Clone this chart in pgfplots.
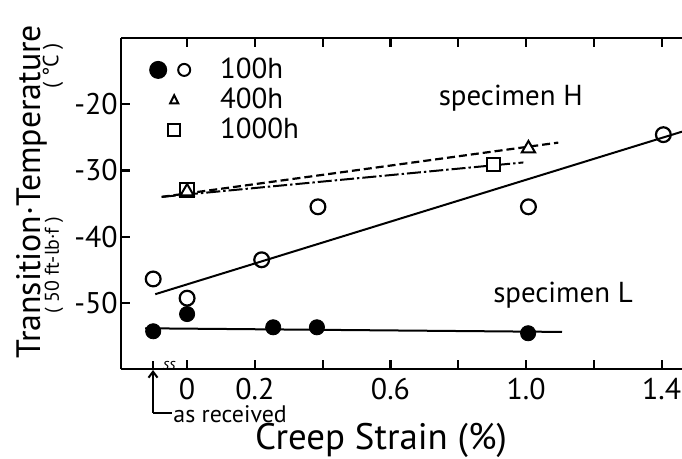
\documentclass[border=0pt]{standalone}
\usepackage{fontspec}
\setmainfont{PT Sans}
\usepackage{pgfplots}
\pgfplotsset{compat=1.18}
\usetikzlibrary{arrows.meta}

% specimen L, 100 h (filled circles)
\pgfplotstableread{
x y
-0.10 -54.3
0.00 -51.7
0.254 -53.7
0.383 -53.7
1.006 -54.6
}\specL
% specimen H, 100 h (open circles)
\pgfplotstableread{
x y
-0.10 -46.4
0.00 -49.3
0.22 -43.5
0.386 -35.5
1.007 -35.5
1.405 -24.6
}\specH

\begin{document}
\begin{tikzpicture}[x=1bp,y=1bp]
\useasboundingbox (0,0) rectangle (341,229.5);
\begin{axis}[
    at={(60.5bp,45bp)}, anchor=south west,
    scale only axis, width=280.5bp, height=165.5bp,
    xmin=-0.195, xmax=1.46, ymin=-60, ymax=-10,
    axis x line*=box, axis y line*=left,
    axis line style={-, line width=1.3bp},
    tick align=inside, major tick length=4.5bp,
    every tick/.style={line width=1.1bp, black},
    xtick={0,0.2,0.4,0.6,0.8,1.0,1.2,1.4},
    xticklabels={0,0.2,,0.6,,1.0,,1.4},
    ytick={-50,-40,-30,-20},
    yticklabels={-50,-40,-30,-20},
    tick label style={font=\fontsize{15}{15}\selectfont},
    xticklabel style={inner sep=0pt, text depth=0pt, yshift=-4.5bp},
    yticklabel style={inner sep=1.5bp},
    clip=false,
    legend style={at={(axis cs:-0.113,-13.4)}, anchor=north west,
        draw=none, fill=none, inner sep=0pt, row sep=6bp,
        font=\fontsize{14.5}{14.5}\selectfont,
        nodes={inner sep=0pt, text height=9bp, text depth=0bp}},
    legend cell align=left,
]
% fitted lines
\addplot[black, line width=1bp, forget plot] coordinates {(-0.124,-53.85) (1.106,-54.4)};
\addplot[black, line width=1bp, forget plot] coordinates {(-0.094,-48.7) (1.46,-24.15)};
\addplot[black, line width=1.1bp, dash pattern=on 4bp off 2bp, forget plot] coordinates {(-0.075,-34.0) (1.095,-25.8)};
\addplot[black, line width=1bp, dash pattern=on 7bp off 1.5bp on 1.2bp off 1.5bp, forget plot] coordinates {(-0.075,-34.0) (0.992,-28.8)};
% data points
\addplot[only marks, mark=*, mark size=3.8bp, mark options={fill=black, draw=black}, forget plot] table {\specL};
\addplot[only marks, mark=o, mark size=3.7bp, mark options={line width=1.1bp, fill=white, draw=black}, forget plot] table {\specH};
\addplot[only marks, mark=square*, mark size=3.4bp, mark options={line width=1bp, fill=white, draw=black}, forget plot] coordinates {(0,-33.0) (0.904,-29.1)};
\addplot[only marks, mark=triangle*, mark size=3.8bp, mark options={line width=1bp, fill=white, draw=black}, forget plot] coordinates {(0,-33.2) (1.007,-26.7)};
% legend
\addlegendimage{legend image code/.code={
    \draw[line width=1bp, fill=black, draw=black] (0bp,0bp) circle (4bp);
    \draw[line width=1bp, fill=white, draw=black] (13bp,0bp) circle (3bp);
    \path[draw=none, fill=none] (-4bp,0bp) -- (31bp,0bp);}}
\addlegendentry{100h}
\addlegendimage{legend image code/.code={
    \draw[line width=1bp, fill=white, draw=black] (6bp,-1.7bp) -- (10bp,-1.7bp) -- (8bp,2.3bp) -- cycle;
    \path[draw=none, fill=none] (-4bp,0bp) -- (31bp,0bp);}}
\addlegendentry{400h}
\addlegendimage{legend image code/.code={
    \draw[line width=1bp, fill=white, draw=black] (5bp,-3bp) rectangle (11bp,3bp);
    \path[draw=none, fill=none] (-4bp,0bp) -- (27bp,0bp);}}
\addlegendentry{1000h}
% annotations
\node[font=\fontsize{14.5}{14.5}\selectfont] at (axis cs:0.955,-19.1) {specimen H};
\node[font=\fontsize{14.5}{14.5}\selectfont] at (axis cs:1.109,-48.9) {specimen L};
\node[font=\fontsize{8}{8}\selectfont\itshape, inner sep=0pt] at (axis cs:-0.052,-59.5) {ss};
\draw[line width=1bp] (axis cs:-0.10,-60) -- (axis cs:-0.10,-58.8);
\end{axis}
\draw[line width=1bp, -{Straight Barb[length=3bp, width=4.5bp]}] (76.5,23) -- (76.5,44.5);
\draw[line width=1bp] (76.5,23) -- (86,23);
\node[anchor=west, inner sep=0pt, font=\fontsize{12}{12}\selectfont] at (86.5,22.5) {as received};
\node[rotate=90, anchor=base, font=\fontsize{17}{17}\selectfont] at (20,133.7) {Transition·Temperature};
\node[rotate=90, font=\fontsize{11}{11}\selectfont] at (26.5,196.5) {( °C )};
\node[rotate=90, font=\fontsize{10}{10}\selectfont] at (27,97) {( 50 ft-lb·f )};
\node[font=\fontsize{18.5}{18.5}\selectfont] at (190.5,9.5) {Creep Strain (\%)};
\end{tikzpicture}
\end{document}
